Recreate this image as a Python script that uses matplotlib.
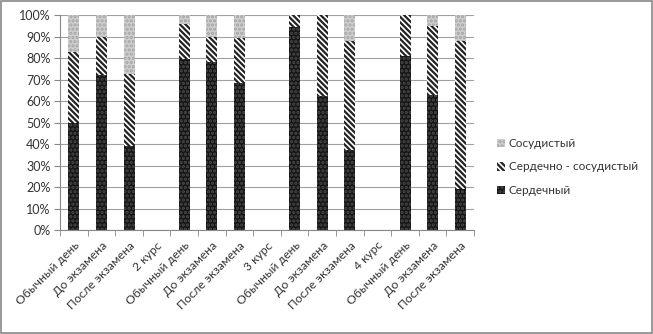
import numpy as np
import matplotlib.pyplot as plt
from matplotlib.patches import Rectangle

plt.rcParams['font.family'] = ['Lato', 'DejaVu Sans']
plt.rcParams['hatch.linewidth'] = 1.6

categories = ['Обычный день', 'До экзамена', 'После экзамена', '2 курс',
              'Обычный день', 'До экзамена', 'После экзамена', '3 курс',
              'Обычный день', 'До экзамена', 'После экзамена', '4 курс',
              'Обычный день', 'До экзамена', 'После экзамена']

# percentages, NaN for the empty group-header columns
serdechny = [50, 72, 39, np.nan, 79.5, 78.5, 68.5, np.nan, 94.5, 62.5, 37.5, np.nan, 81, 63, 19]
serd_sosud = [33, 18, 33.5, np.nan, 16.5, 11.5, 21, np.nan, 5.5, 37.5, 50.5, np.nan, 19, 32, 69]
sosud = [17, 10, 27.5, np.nan, 4, 10, 10.5, np.nan, 0, 0, 12, np.nan, 0, 5, 12]

fig = plt.figure(figsize=(6.53, 3.34), dpi=100)
ax = fig.add_axes([0.092, 0.311, 0.634, 0.643])

x = np.arange(len(categories))
w = 0.4
s1 = np.nan_to_num(serdechny)
s2 = np.nan_to_num(serd_sosud)
s3 = np.nan_to_num(sosud)

b1 = ax.bar(x, s1, w, color='#151515', edgecolor='#4a4a4a', hatch='....', lw=0, zorder=2)
b2 = ax.bar(x, s2, w, bottom=s1, color='white', edgecolor='#222222', hatch='\\\\\\\\\\\\', lw=0, zorder=2)
b3 = ax.bar(x, s3, w, bottom=s1 + s2, color='#cfcfcf', edgecolor='#a5a5a5', hatch='....', lw=0, zorder=2)

ax.set_ylim(0, 100)
ax.set_xlim(-0.5, len(categories) - 0.5)
ax.set_yticks(np.arange(0, 101, 10))
ax.set_yticklabels([f'{v}%' for v in range(0, 101, 10)], fontsize=9, color='#333333')
ax.yaxis.grid(True, color='#a0a0a0', lw=0.8, zorder=0)
ax.set_axisbelow(True)

ax.set_xticks(x)
ax.set_xticklabels(categories, rotation=45, ha='right', rotation_mode='anchor', fontsize=8.7, color='#333333')
ax.tick_params(axis='x', which='major', length=0, pad=7)
ax.set_xticks(np.arange(-0.5, len(categories), 1), minor=True)
ax.tick_params(axis='x', which='minor', length=4, color='#888888')
ax.tick_params(axis='y', length=4, color='#888888', pad=3)

for side in ['top', 'right']:
    ax.spines[side].set_visible(False)
ax.spines['left'].set_color('#888888')
ax.spines['bottom'].set_color('#888888')

ax.legend([b3, b2, b1], ['Сосудистый', 'Сердечно - сосудистый', 'Сердечный'],
          loc='center left', bbox_to_anchor=(0.745, 0.5), bbox_transform=fig.transFigure,
          frameon=False, fontsize=8.5, handlelength=0.7, handleheight=0.7,
          handletextpad=0.3, labelspacing=1.05, labelcolor='#333333')

fig.patches.append(Rectangle((0.002, 0.003), 0.996, 0.994, transform=fig.transFigure,
                             fill=False, edgecolor='#888888', lw=1.2))

fig.savefig('out.png', dpi=100)
